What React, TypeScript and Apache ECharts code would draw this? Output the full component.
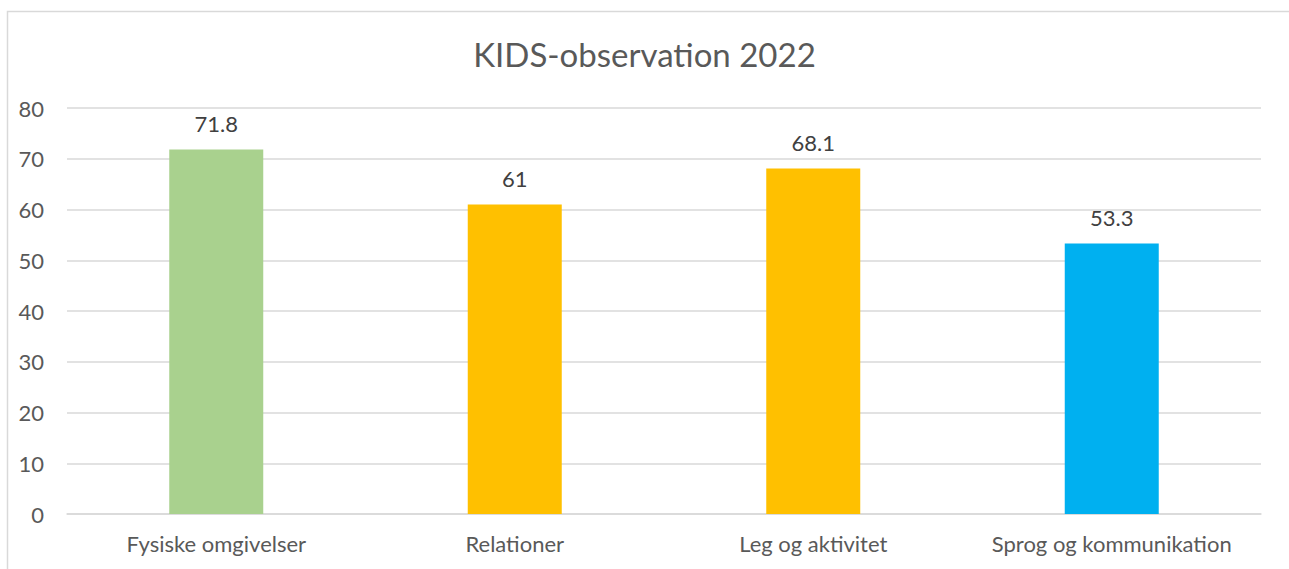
import React, { useEffect, useRef } from "react";
import * as echarts from "echarts";

const categories = ["Fysiske omgivelser", "Relationer", "Leg og aktivitet", "Sprog og kommunikation"];
const values = [71.8, 61, 68.1, 53.3];
const barColors = ["#A9D18E", "#FFC000", "#FFC000", "#00B0F0"];
const yTicks = { min: 0, max: 80, interval: 10 };
const title = "KIDS-observation 2022";

export default function App() {
  const ref = useRef<HTMLDivElement>(null);
  useEffect(() => {
    if (!ref.current) return;
    const chart = echarts.init(ref.current, null, { renderer: "svg" });
    const font = "Lato, 'Open Sans', sans-serif";
    chart.setOption({
      animation: false,
      backgroundColor: "#ffffff",
      title: {
        text: title,
        left: "center",
        top: 32,
        textStyle: { fontFamily: font, fontSize: 33, fontWeight: "normal", color: "#595959" },
      },
      graphic: [
        {
          type: "rect",
          shape: { x: 7.5, y: 11.5, width: 1400, height: 700 },
          style: { fill: "none", stroke: "#D9D9D9", lineWidth: 1.5 },
          silent: true,
          z: -1,
        },
      ],
      grid: { left: 67, right: 28, top: 108, bottom: 55, containLabel: false },
      xAxis: {
        type: "category",
        data: categories,
        axisLine: { show: true, lineStyle: { color: "#D9D9D9", width: 1.5 } },
        axisTick: { show: false },
        axisLabel: { fontFamily: font, fontSize: 22, color: "#595959", margin: 18, interval: 0 },
      },
      yAxis: {
        type: "value",
        min: yTicks.min,
        max: yTicks.max,
        interval: yTicks.interval,
        axisLine: { show: false },
        axisTick: { show: false },
        splitLine: { lineStyle: { color: "#D9D9D9", width: 1.5 } },
        axisLabel: { fontFamily: font, fontSize: 22, color: "#595959", margin: 23 },
      },
      series: [
        {
          type: "bar",
          data: values.map((v, i) => ({ value: v, itemStyle: { color: barColors[i] } })),
          barWidth: 94,
          label: {
            show: true,
            position: "top",
            distance: 15,
            fontFamily: font,
            fontSize: 22,
            color: "#404040",
          },
        },
      ],
    });
    return () => chart.dispose();
  }, []);
  return (
    <div
      ref={ref}
      style={{ position: "fixed", left: 0, top: 0, width: 1289, height: 569 }}
    />
  );
}
